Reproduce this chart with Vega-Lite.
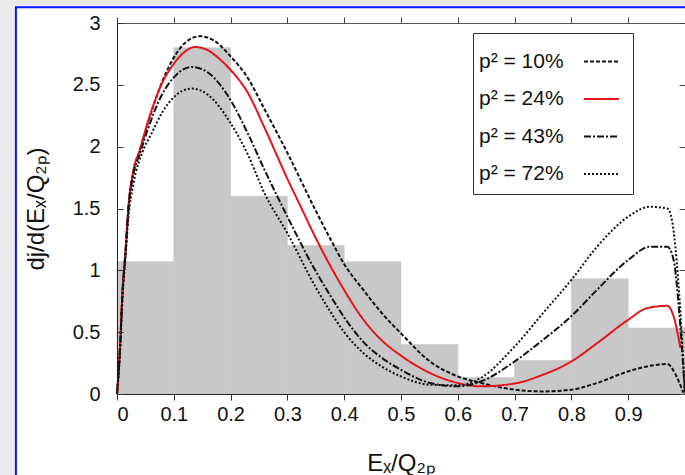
{
  "$schema": "https://vega.github.io/schema/vega-lite/v6.json",
  "width": 568,
  "height": 371,
  "autosize": {"type": "none"},
  "padding": {"left": 117, "top": 23, "right": 0, "bottom": 81},
  "background": "#ebebeb",
  "config": {
    "view": {"stroke": null},
    "font": "Liberation Sans",
    "axis": {"grid": false, "labelFont": "Liberation Sans", "titleFont": "Liberation Sans"}
  },
  "datasets": {
    "hist": [
      {"x0": 0.0, "x1": 0.1, "h": 1.07},
      {"x0": 0.1, "x1": 0.2, "h": 2.8},
      {"x0": 0.2, "x1": 0.3, "h": 1.6},
      {"x0": 0.3, "x1": 0.4, "h": 1.2},
      {"x0": 0.4, "x1": 0.5, "h": 1.07},
      {"x0": 0.5, "x1": 0.6, "h": 0.4},
      {"x0": 0.6, "x1": 0.7, "h": 0.134},
      {"x0": 0.7, "x1": 0.8, "h": 0.271},
      {"x0": 0.8, "x1": 0.9, "h": 0.931},
      {"x0": 0.9, "x1": 1.0, "h": 0.533}
    ],
    "curves": [
      {"s": "p² = 10%", "x": 0, "y": 0},
      {"s": "p² = 10%", "x": 0.005, "y": 0.35},
      {"s": "p² = 10%", "x": 0.01, "y": 0.85},
      {"s": "p² = 10%", "x": 0.015, "y": 1.15},
      {"s": "p² = 10%", "x": 0.02, "y": 1.5},
      {"s": "p² = 10%", "x": 0.029, "y": 1.8},
      {"s": "p² = 10%", "x": 0.04, "y": 1.97},
      {"s": "p² = 10%", "x": 0.055, "y": 2.2},
      {"s": "p² = 10%", "x": 0.079, "y": 2.52},
      {"s": "p² = 10%", "x": 0.1, "y": 2.72},
      {"s": "p² = 10%", "x": 0.12, "y": 2.84},
      {"s": "p² = 10%", "x": 0.146, "y": 2.893},
      {"s": "p² = 10%", "x": 0.17, "y": 2.86},
      {"s": "p² = 10%", "x": 0.2, "y": 2.73},
      {"s": "p² = 10%", "x": 0.231, "y": 2.55},
      {"s": "p² = 10%", "x": 0.26, "y": 2.3},
      {"s": "p² = 10%", "x": 0.3, "y": 1.95},
      {"s": "p² = 10%", "x": 0.349, "y": 1.49},
      {"s": "p² = 10%", "x": 0.375, "y": 1.26},
      {"s": "p² = 10%", "x": 0.4, "y": 1.05},
      {"s": "p² = 10%", "x": 0.434, "y": 0.84},
      {"s": "p² = 10%", "x": 0.467, "y": 0.65},
      {"s": "p² = 10%", "x": 0.5, "y": 0.49},
      {"s": "p² = 10%", "x": 0.551, "y": 0.263},
      {"s": "p² = 10%", "x": 0.6, "y": 0.142},
      {"s": "p² = 10%", "x": 0.64, "y": 0.09},
      {"s": "p² = 10%", "x": 0.7, "y": 0.035},
      {"s": "p² = 10%", "x": 0.75, "y": 0.021},
      {"s": "p² = 10%", "x": 0.8, "y": 0.035},
      {"s": "p² = 10%", "x": 0.845, "y": 0.089},
      {"s": "p² = 10%", "x": 0.9, "y": 0.183},
      {"s": "p² = 10%", "x": 0.938, "y": 0.228},
      {"s": "p² = 10%", "x": 0.969, "y": 0.242},
      {"s": "p² = 10%", "x": 0.982, "y": 0.17},
      {"s": "p² = 10%", "x": 0.997, "y": 0.01},
      {"s": "p² = 24%", "x": 0, "y": 0},
      {"s": "p² = 24%", "x": 0.005, "y": 0.35},
      {"s": "p² = 24%", "x": 0.01, "y": 0.85},
      {"s": "p² = 24%", "x": 0.015, "y": 1.15},
      {"s": "p² = 24%", "x": 0.02, "y": 1.5},
      {"s": "p² = 24%", "x": 0.029, "y": 1.81},
      {"s": "p² = 24%", "x": 0.04, "y": 1.97},
      {"s": "p² = 24%", "x": 0.055, "y": 2.21},
      {"s": "p² = 24%", "x": 0.079, "y": 2.51},
      {"s": "p² = 24%", "x": 0.1, "y": 2.67},
      {"s": "p² = 24%", "x": 0.12, "y": 2.77},
      {"s": "p² = 24%", "x": 0.137, "y": 2.806},
      {"s": "p² = 24%", "x": 0.16, "y": 2.78},
      {"s": "p² = 24%", "x": 0.1725, "y": 2.74},
      {"s": "p² = 24%", "x": 0.2, "y": 2.62},
      {"s": "p² = 24%", "x": 0.231, "y": 2.43},
      {"s": "p² = 24%", "x": 0.26, "y": 2.15},
      {"s": "p² = 24%", "x": 0.3, "y": 1.74},
      {"s": "p² = 24%", "x": 0.325, "y": 1.5},
      {"s": "p² = 24%", "x": 0.349, "y": 1.27},
      {"s": "p² = 24%", "x": 0.375, "y": 1.04},
      {"s": "p² = 24%", "x": 0.4, "y": 0.84},
      {"s": "p² = 24%", "x": 0.434, "y": 0.6},
      {"s": "p² = 24%", "x": 0.467, "y": 0.43},
      {"s": "p² = 24%", "x": 0.5, "y": 0.31},
      {"s": "p² = 24%", "x": 0.551, "y": 0.17},
      {"s": "p² = 24%", "x": 0.6, "y": 0.089},
      {"s": "p² = 24%", "x": 0.64, "y": 0.062},
      {"s": "p² = 24%", "x": 0.7, "y": 0.085},
      {"s": "p² = 24%", "x": 0.75, "y": 0.156},
      {"s": "p² = 24%", "x": 0.8, "y": 0.263},
      {"s": "p² = 24%", "x": 0.845, "y": 0.41},
      {"s": "p² = 24%", "x": 0.9, "y": 0.6},
      {"s": "p² = 24%", "x": 0.933, "y": 0.694},
      {"s": "p² = 24%", "x": 0.969, "y": 0.713},
      {"s": "p² = 24%", "x": 0.98, "y": 0.627},
      {"s": "p² = 24%", "x": 0.992, "y": 0.371},
      {"s": "p² = 43%", "x": 0, "y": 0},
      {"s": "p² = 43%", "x": 0.005, "y": 0.35},
      {"s": "p² = 43%", "x": 0.01, "y": 0.85},
      {"s": "p² = 43%", "x": 0.015, "y": 1.15},
      {"s": "p² = 43%", "x": 0.02, "y": 1.5},
      {"s": "p² = 43%", "x": 0.029, "y": 1.78},
      {"s": "p² = 43%", "x": 0.04, "y": 1.94},
      {"s": "p² = 43%", "x": 0.055, "y": 2.15},
      {"s": "p² = 43%", "x": 0.079, "y": 2.42},
      {"s": "p² = 43%", "x": 0.1, "y": 2.56},
      {"s": "p² = 43%", "x": 0.1315, "y": 2.645},
      {"s": "p² = 43%", "x": 0.16, "y": 2.6},
      {"s": "p² = 43%", "x": 0.2, "y": 2.376},
      {"s": "p² = 43%", "x": 0.231, "y": 2.1},
      {"s": "p² = 43%", "x": 0.26, "y": 1.81},
      {"s": "p² = 43%", "x": 0.3, "y": 1.434},
      {"s": "p² = 43%", "x": 0.349, "y": 1.0},
      {"s": "p² = 43%", "x": 0.375, "y": 0.8},
      {"s": "p² = 43%", "x": 0.4, "y": 0.62},
      {"s": "p² = 43%", "x": 0.434, "y": 0.42},
      {"s": "p² = 43%", "x": 0.467, "y": 0.29},
      {"s": "p² = 43%", "x": 0.5, "y": 0.196},
      {"s": "p² = 43%", "x": 0.551, "y": 0.089},
      {"s": "p² = 43%", "x": 0.6, "y": 0.062},
      {"s": "p² = 43%", "x": 0.64, "y": 0.1},
      {"s": "p² = 43%", "x": 0.7, "y": 0.263},
      {"s": "p² = 43%", "x": 0.75, "y": 0.438},
      {"s": "p² = 43%", "x": 0.8, "y": 0.63},
      {"s": "p² = 43%", "x": 0.845, "y": 0.842},
      {"s": "p² = 43%", "x": 0.9, "y": 1.084},
      {"s": "p² = 43%", "x": 0.938, "y": 1.19},
      {"s": "p² = 43%", "x": 0.969, "y": 1.19},
      {"s": "p² = 43%", "x": 0.98, "y": 1.084},
      {"s": "p² = 43%", "x": 0.99, "y": 0.65},
      {"s": "p² = 43%", "x": 1.0, "y": 0},
      {"s": "p² = 72%", "x": 0, "y": 0},
      {"s": "p² = 72%", "x": 0.005, "y": 0.3},
      {"s": "p² = 72%", "x": 0.01, "y": 0.8},
      {"s": "p² = 72%", "x": 0.015, "y": 1.1},
      {"s": "p² = 72%", "x": 0.02, "y": 1.42},
      {"s": "p² = 72%", "x": 0.029, "y": 1.7},
      {"s": "p² = 72%", "x": 0.046, "y": 1.97},
      {"s": "p² = 72%", "x": 0.06, "y": 2.1},
      {"s": "p² = 72%", "x": 0.08, "y": 2.28},
      {"s": "p² = 72%", "x": 0.1, "y": 2.4},
      {"s": "p² = 72%", "x": 0.1315, "y": 2.47},
      {"s": "p² = 72%", "x": 0.16, "y": 2.42},
      {"s": "p² = 72%", "x": 0.2, "y": 2.19},
      {"s": "p² = 72%", "x": 0.231, "y": 1.93},
      {"s": "p² = 72%", "x": 0.26, "y": 1.62},
      {"s": "p² = 72%", "x": 0.3, "y": 1.3},
      {"s": "p² = 72%", "x": 0.349, "y": 0.87},
      {"s": "p² = 72%", "x": 0.375, "y": 0.67},
      {"s": "p² = 72%", "x": 0.4, "y": 0.5},
      {"s": "p² = 72%", "x": 0.434, "y": 0.33},
      {"s": "p² = 72%", "x": 0.467, "y": 0.22},
      {"s": "p² = 72%", "x": 0.5, "y": 0.142},
      {"s": "p² = 72%", "x": 0.551, "y": 0.075},
      {"s": "p² = 72%", "x": 0.6, "y": 0.07},
      {"s": "p² = 72%", "x": 0.64, "y": 0.129},
      {"s": "p² = 72%", "x": 0.7, "y": 0.384},
      {"s": "p² = 72%", "x": 0.75, "y": 0.654},
      {"s": "p² = 72%", "x": 0.8, "y": 0.923},
      {"s": "p² = 72%", "x": 0.845, "y": 1.19},
      {"s": "p² = 72%", "x": 0.9, "y": 1.434},
      {"s": "p² = 72%", "x": 0.938, "y": 1.514},
      {"s": "p² = 72%", "x": 0.969, "y": 1.5},
      {"s": "p² = 72%", "x": 0.977, "y": 1.407},
      {"s": "p² = 72%", "x": 0.988, "y": 0.923},
      {"s": "p² = 72%", "x": 1.0, "y": 0}
    ]
  },
  "resolve": {"axis": {"x": "independent", "y": "independent"}},
  "layer": [
    {
      "data": {"values": [{}]},
      "mark": {"type": "rect", "fill": "white", "stroke": "#0a14ff", "strokeWidth": 2, "clip": false},
      "encoding": {
        "x": {"datum": -0.178, "type": "quantitative", "scale": {"domain": [0, 1], "nice": false}, "axis": null},
        "x2": {"datum": 1.3},
        "y": {"datum": 3.127, "type": "quantitative", "scale": {"domain": [0, 3], "nice": false}, "axis": null},
        "y2": {"datum": -1}
      }
    },
    {
      "data": {"name": "hist"},
      "mark": {"type": "rect", "fill": "#c8c8c8", "stroke": "#c8c8c8", "strokeWidth": 0.6},
      "encoding": {
        "x": {"field": "x0", "type": "quantitative",
          "axis": {"orient": "top", "zindex": 2, "labels": false, "title": null, "values": [0, 0.1, 0.2, 0.3, 0.4, 0.5, 0.6, 0.7, 0.8, 0.9], "tickSize": 6, "tickColor": "#444", "domainColor": "#555"}},
        "x2": {"field": "x1"},
        "y": {"field": "h", "type": "quantitative",
          "axis": {"orient": "right", "zindex": 2, "labels": false, "title": null, "values": [0, 0.5, 1, 1.5, 2, 2.5, 3], "tickSize": -6, "tickColor": "#444", "domain": false}},
        "y2": {"datum": 0}
      }
    },
    {
      "data": {"name": "curves"},
      "mark": {"type": "line", "strokeWidth": 2, "interpolate": "monotone"},
      "encoding": {
        "x": {"field": "x", "type": "quantitative",
          "axis": {"orient": "bottom", "zindex": 2, "values": [0, 0.1, 0.2, 0.3, 0.4, 0.5, 0.6, 0.7, 0.8, 0.9], "format": "~g", "labelFontSize": 20, "labelColor": "#111", "tickSize": 6, "tickColor": "#333", "domainColor": "#222", "labelPadding": 4, "title": "Eₓ/Q₂ₚ", "titleFontSize": 24, "titleFontWeight": "normal", "titleColor": "#111", "titlePadding": 27}},
        "y": {"field": "y", "type": "quantitative",
          "axis": {"orient": "left", "zindex": 2, "values": [0, 0.5, 1, 1.5, 2, 2.5, 3], "format": "~g", "labelFontSize": 20, "labelColor": "#111", "tickSize": -6, "tickColor": "#333", "domainColor": "#222", "labelPadding": 23, "title": "dj/d(Eₓ/Q₂ₚ)", "titleFontSize": 24, "titleFontWeight": "normal", "titleColor": "#111", "titlePadding": 24}},
        "color": {"field": "s", "type": "nominal",
          "scale": {"domain": ["p² = 10%", "p² = 24%", "p² = 43%", "p² = 72%"], "range": ["#111111", "#e8141c", "#111111", "#111111"]},
          "legend": {"orient": "none", "legendX": 356, "legendY": 10, "title": null, "symbolType": "stroke", "symbolSize": 1225, "symbolStrokeWidth": 2, "labelFontSize": 21, "labelFont": "Liberation Sans", "labelColor": "#111", "labelOffset": -141, "symbolOffset": 100, "rowPadding": 8.5, "padding": 10, "strokeColor": "#333", "fillColor": "white"}},
        "strokeDash": {"field": "s", "type": "nominal",
          "scale": {"domain": ["p² = 10%", "p² = 24%", "p² = 43%", "p² = 72%"], "range": [[4, 2], [1, 0], [7, 2, 2, 2], [2, 2]]},
          "legend": {"orient": "none", "legendX": 356, "legendY": 10, "title": null, "symbolType": "stroke", "symbolSize": 1225, "symbolStrokeWidth": 2, "labelFontSize": 21, "labelFont": "Liberation Sans", "labelColor": "#111", "labelOffset": -141, "symbolOffset": 100, "rowPadding": 8.5, "padding": 10, "strokeColor": "#333", "fillColor": "white"}}
      }
    }
  ]
}
